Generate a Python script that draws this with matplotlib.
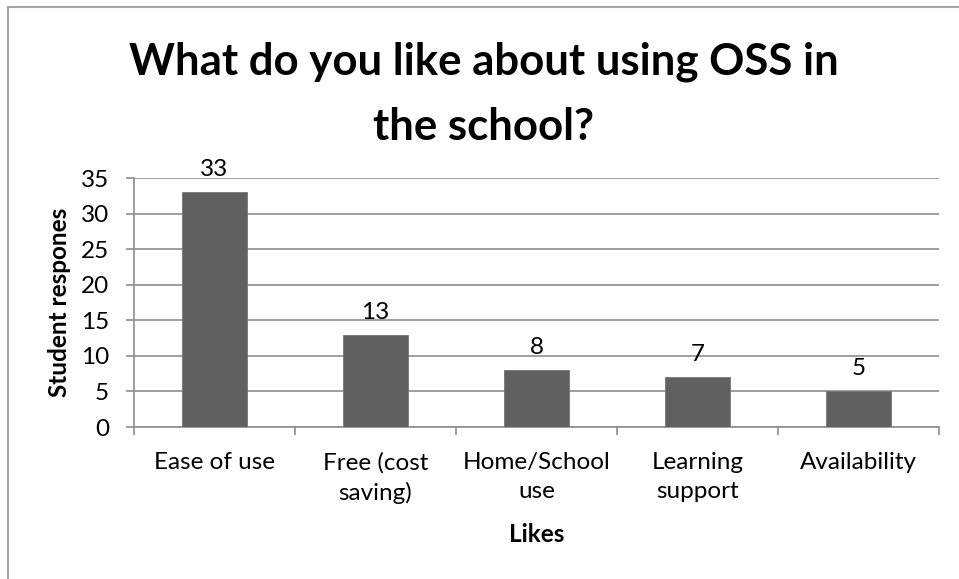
import matplotlib
matplotlib.use("Agg")
import matplotlib.pyplot as plt
from matplotlib.lines import Line2D
import numpy as np

categories = ["Ease of use", "Free (cost\nsaving)", "Home/School\nuse", "Learning\nsupport", "Availability"]
responses = [33, 13, 8, 7, 5]
y_ticks = [0, 5, 10, 15, 20, 25, 30, 35]

title = "What do you like about using OSS in\nthe school?"
x_label = "Likes"
y_label = "Student respones"

plt.rcParams["font.family"] = ["Lato", "DejaVu Sans"]

W, H, DPI = 959, 579, 100
fig = plt.figure(figsize=(W / DPI, H / DPI), dpi=DPI)
fig.patch.set_facecolor("white")

# plot area in pixel coordinates
left, right, top, bottom = 134, 939, 178, 427
ax = fig.add_axes([left / W, (H - bottom) / H, (right - left) / W, (bottom - top) / H])

grid_col = "#8e8e8e"
bar_col = "#606060"
px = 72 / DPI  # points per pixel
fs = 17.5

x = np.arange(len(categories))
bars = ax.bar(x, responses, width=0.4, color=bar_col, edgecolor="#767676", linewidth=0.6, zorder=3)
ax.bar_label(bars, labels=[str(v) for v in responses], padding=12 * px, fontsize=fs, color="#000000")

ax.set_xlim(-0.5, len(categories) - 0.5)
ax.set_ylim(0, 35)
ax.set_yticks(y_ticks)
ax.set_yticklabels([str(t) for t in y_ticks], fontsize=fs)
ax.yaxis.grid(True, color=grid_col, linewidth=1.2, zorder=0)
ax.set_axisbelow(True)

ax.set_xticks(x)
ax.set_xticklabels(categories, fontsize=fs, linespacing=1.45)
ax.set_xticks(np.arange(-0.5, len(categories)), minor=True)
ax.tick_params(axis="x", which="major", length=0, pad=25 * px)
ax.tick_params(axis="x", which="minor", length=8 * px, width=1.2, color=grid_col, direction="out")
ax.tick_params(axis="y", which="major", length=8 * px, width=1.2, color=grid_col, direction="out", pad=17 * px)

for s in ("top", "right"):
    ax.spines[s].set_visible(False)
for s in ("left", "bottom"):
    ax.spines[s].set_color(grid_col)
    ax.spines[s].set_linewidth(1.2)

ax.set_xlabel(x_label, fontsize=fs, fontweight="bold", labelpad=19 * px)
ax.set_ylabel(y_label, fontsize=fs, fontweight="bold", labelpad=10 * px)

fig.text(484 / W, 1 - 94 / H, title, ha="center", va="center", fontsize=31.5,
         fontweight="bold", linespacing=1.75)

# chart frame (top and left edges)
fig.add_artist(Line2D([8 / W, 1.0], [1 - 7 / H, 1 - 7 / H], transform=fig.transFigure, color="#a6a6a6", linewidth=1.5))
fig.add_artist(Line2D([8 / W, 8 / W], [0, 1 - 7 / H], transform=fig.transFigure, color="#a6a6a6", linewidth=1.5))

fig.savefig("out.png", dpi=DPI)
